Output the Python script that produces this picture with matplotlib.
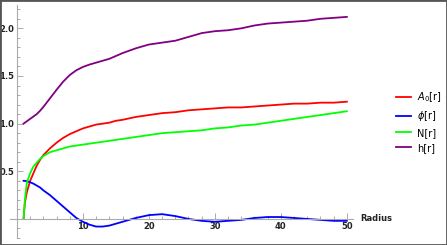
import numpy as np
import matplotlib.pyplot as plt
from matplotlib.patches import Rectangle

# Values
r = [1, 1.2, 1.5, 2, 2.5, 3, 3.5, 4, 5, 6, 7, 8, 9, 10, 11, 12, 13, 14, 15, 16,
     18, 20, 22, 24, 26, 28, 30, 32, 34, 36, 38, 40, 42, 44, 46, 48, 50]

A0 = [0.00, 0.17, 0.28, 0.40, 0.48, 0.56, 0.62, 0.67, 0.74, 0.80, 0.85, 0.89, 0.92, 0.95,
      0.97, 0.99, 1.00, 1.01, 1.03, 1.04, 1.07, 1.09, 1.11, 1.12, 1.14, 1.15, 1.16, 1.17,
      1.17, 1.18, 1.19, 1.20, 1.21, 1.21, 1.22, 1.22, 1.23]

phi = [0.40, 0.40, 0.395, 0.385, 0.37, 0.35, 0.33, 0.30, 0.25, 0.19, 0.13, 0.07, 0.01, -0.03,
       -0.06, -0.08, -0.08, -0.07, -0.05, -0.03, 0.01, 0.04, 0.05, 0.03, 0.00, -0.02, -0.03,
       -0.02, -0.01, 0.01, 0.02, 0.02, 0.01, 0.00, -0.01, -0.02, -0.02]

N = [0.00, 0.20, 0.38, 0.48, 0.55, 0.59, 0.63, 0.66, 0.70, 0.72, 0.74, 0.76, 0.77, 0.78,
     0.79, 0.80, 0.81, 0.82, 0.83, 0.84, 0.86, 0.88, 0.90, 0.91, 0.92, 0.93, 0.95, 0.96,
     0.98, 0.99, 1.01, 1.03, 1.05, 1.07, 1.09, 1.11, 1.13]

h = [1.00, 1.01, 1.025, 1.05, 1.075, 1.10, 1.135, 1.175, 1.265, 1.355, 1.44, 1.51, 1.56, 1.595,
     1.62, 1.64, 1.66, 1.68, 1.71, 1.74, 1.79, 1.83, 1.85, 1.87, 1.91, 1.95, 1.97, 1.98,
     2.00, 2.03, 2.05, 2.06, 2.07, 2.08, 2.10, 2.11, 2.12]

series = [
    (A0, "$A_0$[r]", (1, 0, 0)),
    (phi, "$\\phi$[r]", (0, 0, 1)),
    (N, "N[r]", (0, 1, 0)),
    (h, "h[r]", (0.5, 0, 0.5)),
]

x_major = [10, 20, 30, 40, 50]
y_major = [0.5, 1.0, 1.5, 2.0]

fig = plt.figure(figsize=(4.47, 2.45), dpi=100)
ax = fig.add_axes([0.0217, 0.0286, 0.769, 0.953])

for vals, label, color in series:
    ax.plot(r, vals, color=color, lw=1.3, label=label)

ax.set_xlim(-1.1, 51)
ax.set_ylim(-0.2, 2.25)

# Mathematica style axes crossing at origin
for side in ["top", "right"]:
    ax.spines[side].set_visible(False)
ax.spines["left"].set_position(("data", 0))
ax.spines["bottom"].set_position(("data", 0))
for side in ["left", "bottom"]:
    ax.spines[side].set_color("#aaaaaa")
    ax.spines[side].set_linewidth(0.8)

ax.set_xticks(x_major)
ax.set_xticklabels([str(v) for v in x_major])
ax.set_yticks(y_major)
ax.set_yticklabels([f"{v:.1f}" for v in y_major])
ax.set_xticks(np.arange(2, 51, 2), minor=True)
ax.set_yticks(np.arange(-0.2, 2.25, 0.1), minor=True)

ax.tick_params(which="both", direction="in", color="#aaaaaa", width=0.7,
               labelsize=6, labelcolor="#222222", pad=2)
ax.tick_params(which="major", length=4)
ax.tick_params(which="minor", length=2)
for lbl in ax.get_xticklabels() + ax.get_yticklabels():
    lbl.set_fontweight("bold")

ax.text(52.1, 0, "Radius", fontsize=6, color="#222222", fontweight="bold",
        va="center", ha="left", clip_on=False)

fig.legend(loc="center left", bbox_to_anchor=(387 / 447, 1 - 121.5 / 245),
           frameon=False, fontsize=7, handlelength=1.55, handletextpad=0.6,
           labelspacing=0.5)

# grey frame round the whole picture
fig.patches.append(Rectangle((0, 0), 1, 1, transform=fig.transFigure, fill=False,
                             edgecolor="#555555", lw=2))

fig.savefig("out.png", dpi=100)
